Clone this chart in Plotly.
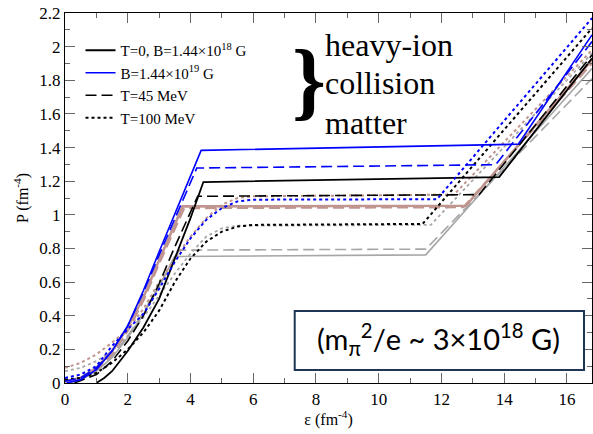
import plotly.graph_objects as go

# ---------------- data ----------------
# Black: B = 1.44e18 G ; Blue: B = 1.44e19 G ; grey / rosy: other parameter sets
# solid: T = 0 ; dashed: T = 45 MeV ; dotted: T = 100 MeV

grey_solid_e = [0.1, 0.5, 1.0, 1.5, 2.0, 2.5, 3.0, 3.49, 11.5, 16.8]
grey_solid_p = [0.0, 0.02, 0.07, 0.15, 0.27, 0.41, 0.57, 0.752, 0.762, 1.87]

grey_dash_e = [0.0, 0.5, 1.0, 1.5, 2.0, 2.5, 3.0, 3.65, 11.5, 16.8]
grey_dash_p = [0.01, 0.03, 0.08, 0.16, 0.28, 0.42, 0.58, 0.79, 0.796, 1.81]

grey_dot_e = [0.0, 0.5, 1.0, 1.5, 2.0, 2.5, 3.0, 3.5, 4.0, 4.5, 5.0, 5.5, 11.66, 16.8]
grey_dot_p = [0.07, 0.09, 0.13, 0.19, 0.28, 0.39, 0.52, 0.65, 0.77, 0.87, 0.92, 0.935, 0.94, 1.96]

rosy_solid_e = [0.0, 0.5, 1.0, 1.5, 2.0, 2.5, 3.0, 3.5, 3.75, 12.78, 16.8]
rosy_solid_p = [0.01, 0.03, 0.09, 0.19, 0.33, 0.51, 0.73, 0.94, 1.05, 1.054, 1.92]

rosy_dash_e = [0.0, 0.5, 1.0, 1.5, 2.0, 2.5, 3.0, 3.5, 3.8, 12.7, 16.8]
rosy_dash_p = [0.01, 0.03, 0.08, 0.17, 0.31, 0.49, 0.71, 0.92, 1.04, 1.045, 1.9]

rosy_dot_e = [0.0, 0.5, 1.0, 1.5, 2.0, 2.5, 3.0, 3.5, 4.0, 4.5, 5.0, 5.5, 6.0, 12.4, 16.8]
rosy_dot_p = [0.09, 0.12, 0.17, 0.24, 0.32, 0.44, 0.6, 0.74, 0.87, 0.98, 1.06, 1.1, 1.11, 1.12, 1.98]

black_solid_e = [1.0, 1.25, 1.5, 2.0, 2.5, 3.0, 3.5, 4.0, 4.41, 13.84, 16.8]
black_solid_p = [0.0, 0.03, 0.07, 0.19, 0.33, 0.5, 0.74, 0.98, 1.195, 1.224, 1.93]

black_dash_e = [0.3, 1.0, 1.5, 2.0, 2.5, 3.0, 3.5, 4.0, 4.23, 13.2, 16.8]
black_dash_p = [0.0, 0.05, 0.13, 0.25, 0.4, 0.59, 0.81, 1.01, 1.11, 1.12, 1.95]

black_dot_e = [0.0, 0.5, 1.0, 1.5, 2.0, 2.5, 3.0, 3.5, 4.0, 4.5, 5.0, 5.5, 6.0, 11.4, 16.8]
black_dot_p = [0.02, 0.03, 0.06, 0.12, 0.2, 0.3, 0.43, 0.6, 0.74, 0.84, 0.9, 0.93, 0.94, 0.946, 2.11]

blue_solid_e = [0.05, 0.5, 1.0, 1.5, 2.0, 2.5, 3.0, 3.5, 4.0, 4.34, 14.45, 16.8]
blue_solid_p = [0.0, 0.02, 0.08, 0.19, 0.34, 0.55, 0.78, 1.01, 1.23, 1.383, 1.42, 2.07]

blue_dash_e = [0.0, 0.5, 1.0, 1.5, 2.0, 2.5, 3.0, 3.5, 4.0, 4.2, 13.73, 16.8]
blue_dash_p = [0.01, 0.03, 0.09, 0.19, 0.34, 0.54, 0.76, 0.98, 1.19, 1.278, 1.298, 2.03]

blue_dot_e = [0.0, 0.5, 1.0, 1.5, 2.0, 2.5, 3.0, 3.5, 4.0, 4.5, 5.0, 5.5, 6.0, 11.86, 16.8]
blue_dot_p = [0.03, 0.05, 0.1, 0.22, 0.32, 0.41, 0.56, 0.72, 0.86, 0.97, 1.04, 1.08, 1.09, 1.093, 2.17]

x_ticks = [0, 2, 4, 6, 8, 10, 12, 14, 16]
y_ticks = [0, 0.2, 0.4, 0.6, 0.8, 1, 1.2, 1.4, 1.6, 1.8, 2, 2.2]

legend_labels = ["T=0, B=1.44×10<sup>18</sup> G", "B=1.44×10<sup>19</sup> G",
                 "T=45 MeV", "T=100 MeV"]

# ---------------- styles ----------------
GREY = "#a6a6a6"
ROSY = "#c0958f"
BLACK = "#000000"
BLUE = "#0000ff"
DASH = "11px,5px"
DOT = "3px,3px"
SERIF = "Liberation Serif"

fig = go.Figure()

def add(e, p, color, dash, width=1.6, name=None, rank=None):
    fig.add_trace(go.Scatter(
        x=e, y=p, mode="lines",
        line=dict(color=color, dash=dash, width=width),
        name=name or "", showlegend=name is not None,
        legendrank=rank if rank is not None else 1000,
        hoverinfo="skip"))

add(grey_solid_e, grey_solid_p, GREY, "solid", 1.6)
add(grey_dash_e, grey_dash_p, GREY, DASH, 1.6)
add(grey_dot_e, grey_dot_p, GREY, DOT, 1.8)
add(rosy_solid_e, rosy_solid_p, ROSY, "solid", 2.6)
add(rosy_dash_e, rosy_dash_p, ROSY, DASH, 2.2)
add(rosy_dot_e, rosy_dot_p, ROSY, DOT, 2.0)
add(black_dot_e, black_dot_p, BLACK, DOT, 2.0, legend_labels[3], 4)
add(black_dash_e, black_dash_p, BLACK, DASH, 1.6, legend_labels[2], 3)
add(black_solid_e, black_solid_p, BLACK, "solid", 1.8, legend_labels[0], 1)
add(blue_dot_e, blue_dot_p, BLUE, DOT, 2.0)
add(blue_dash_e, blue_dash_p, BLUE, DASH, 1.6)
add(blue_solid_e, blue_solid_p, BLUE, "solid", 1.6, legend_labels[1], 2)

# ---------------- layout ----------------
L, R, T, B = 65.5, 592.0, 13.0, 383.0
def px(xp):
    return (xp - L) / (R - L)
def py(yp):
    return (B - yp) / (B - T)

axis_common = dict(
    showline=True, linecolor="black", linewidth=1.2, mirror="allticks",
    ticks="inside", ticklen=10, tickwidth=1, tickcolor="#666666",
    showgrid=False, zeroline=False,
    tickfont=dict(family=SERIF, size=17, color="black"),
)

fig.update_layout(
    width=593, height=434,
    margin=dict(l=65, r=1, t=13, b=51),
    plot_bgcolor="white", paper_bgcolor="white",
    xaxis=dict(range=[0, 16.8], tickvals=x_ticks,
               minor=dict(dtick=1, ticks="inside", ticklen=5, tickcolor="#666666"),
               title=dict(text="ε (fm<sup>-4</sup>)", font=dict(family=SERIF, size=16, color="black"),
                          standoff=4),
               **axis_common),
    yaxis=dict(range=[0, 2.2], tickvals=y_ticks,
               minor=dict(dtick=0.1, ticks="inside", ticklen=5, tickcolor="#666666"),
               title=dict(text="P (fm<sup>-4</sup>)", font=dict(family=SERIF, size=16, color="black"),
                          standoff=6),
               **axis_common),
    legend=dict(x=px(81), y=py(34), xanchor="left", yanchor="top",
                bgcolor="rgba(0,0,0,0)", borderwidth=0,
                font=dict(family=SERIF, size=15, color="black"),
                itemwidth=30, tracegroupgap=0),
    showlegend=True,
)

# brace + text
fig.add_annotation(xref="paper", yref="paper", x=px(309), y=py(80), xanchor="center", yanchor="middle",
                   text="<b>}</b>", showarrow=False, font=dict(family=SERIF, size=86, color="black"))
for txt, yc in [("heavy-ion", 45), ("collision", 83), ("matter", 123)]:
    fig.add_annotation(xref="paper", yref="paper", x=px(323), y=py(yc), xanchor="left", yanchor="middle",
                       text=txt, showarrow=False, font=dict(family=SERIF, size=32, color="black"))

# inset box
fig.add_shape(type="rect", xref="paper", yref="paper", x0=px(295), x1=px(584), y0=py(370), y1=py(311),
              line=dict(color="#1f3556", width=2), fillcolor="white", layer="above")
fig.add_annotation(xref="paper", yref="paper", x=px(439), y=py(339), xanchor="center", yanchor="middle",
                   text="(m<sub>π</sub><sup>2</sup>/e ~ 3×10<sup>18</sup> G)", showarrow=False,
                   font=dict(family="Lato", size=29, color="black"))

fig.write_html("out.html")
